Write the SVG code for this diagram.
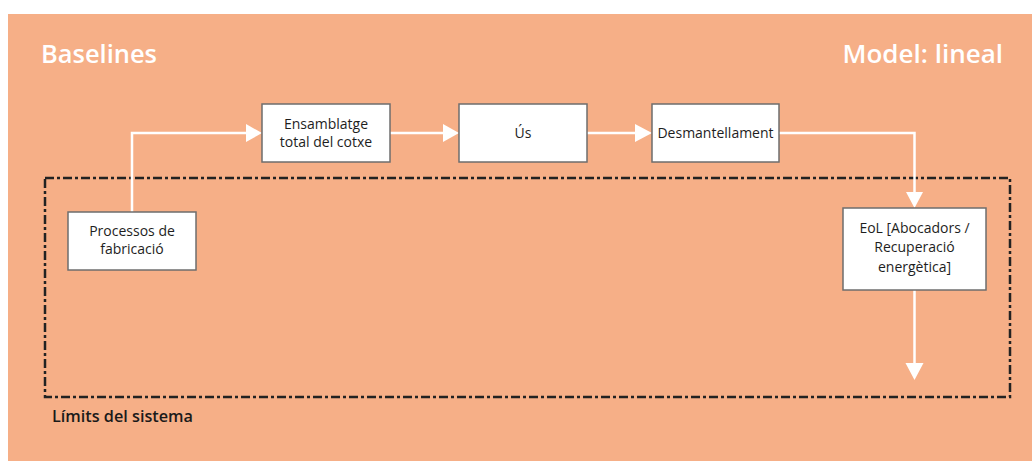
<svg xmlns="http://www.w3.org/2000/svg" width="1032" height="461" viewBox="0 0 1032 461">
  <style>
    .title { font-family: "Open Sans", "Noto Sans", sans-serif; font-size: 26px; font-weight: 600; fill: #ffffff; }
    .box { fill: #ffffff; stroke: #6e6e6e; stroke-width: 1.5; }
    .lbl { font-family: "Open Sans", "Noto Sans", sans-serif; font-size: 14px; fill: #1e1e1e; text-anchor: middle; }
    .flow { fill: none; stroke: #ffffff; stroke-width: 2.5; }
    .head { fill: #ffffff; }
    .bound { fill: none; stroke: #222222; stroke-width: 2.5; stroke-dasharray: 9 3 3 3; }
    .cap { font-family: "Open Sans", "Noto Sans", sans-serif; font-size: 16.5px; font-weight: 600; fill: #1a1a1a; }
  </style>

  <!-- backdrop -->
  <rect x="0" y="0" width="1032" height="461" fill="#ffffff"/>
  <rect x="8" y="14" width="1024" height="447" fill="#F6AF87"/>

  <text class="title" x="41" y="63" textLength="116" lengthAdjust="spacingAndGlyphs">Baselines</text>
  <text class="title" x="1003" y="63" text-anchor="end">Model: lineal</text>

  <!-- system boundary -->
  <g id="system-boundary">
    <rect class="bound" x="45" y="178" width="965" height="219"/>
    <text class="cap" x="52" y="422" textLength="141" lengthAdjust="spacingAndGlyphs">Límits del sistema</text>
  </g>

  <!-- connectors -->
  <g id="connectors">
    <polyline class="flow" points="132,212 132,133 247,133"/>
    <polygon class="head" points="246,124 262,133 246,142"/>
    <line class="flow" x1="390" y1="133" x2="444" y2="133"/>
    <polygon class="head" points="443,124 459,133 443,142"/>
    <line class="flow" x1="587" y1="133" x2="637" y2="133"/>
    <polygon class="head" points="635,124 652,133 635,142"/>
    <polyline class="flow" points="779,133 914.5,133 914.5,193"/>
    <polygon class="head" points="906,192 914.5,208 923,192"/>
    <line class="flow" x1="914.5" y1="290" x2="914.5" y2="364"/>
    <polygon class="head" points="905.5,363 914.5,380 923.5,363"/>
  </g>

  <g id="node-processos">
    <rect class="box" x="68" y="212" width="128" height="58"/>
    <text class="lbl" x="132" y="236">Processos de</text>
    <text class="lbl" x="132" y="254">fabricació</text>
  </g>

  <g id="node-ensamblatge">
    <rect class="box" x="262" y="104" width="128" height="58"/>
    <text class="lbl" x="326" y="128.5">Ensamblatge</text>
    <text class="lbl" x="326" y="147">total del cotxe</text>
  </g>

  <g id="node-us">
    <rect class="box" x="459" y="104" width="128" height="58"/>
    <text class="lbl" x="523" y="138">Ús</text>
  </g>

  <g id="node-desmantellament">
    <rect class="box" x="652" y="104" width="127" height="58"/>
    <text class="lbl" x="715.5" y="138">Desmantellament</text>
  </g>

  <g id="node-eol">
    <rect class="box" x="843" y="208" width="143" height="82"/>
    <text class="lbl" x="914.5" y="233">EoL [Abocadors /</text>
    <text class="lbl" x="914.5" y="252">Recuperació</text>
    <text class="lbl" x="914.5" y="272">energètica]</text>
  </g>
</svg>
